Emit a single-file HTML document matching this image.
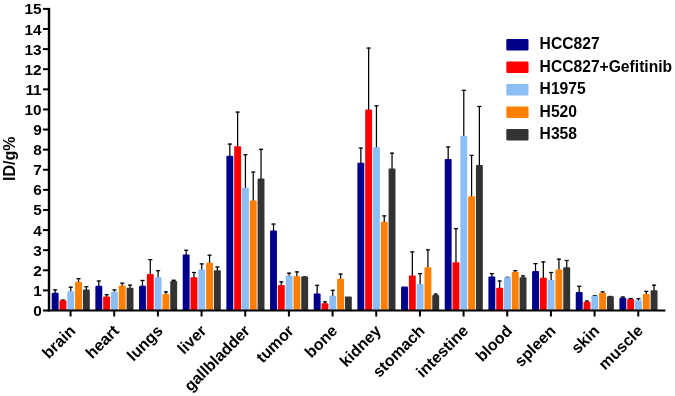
<!DOCTYPE html>
<html><head><meta charset="utf-8"><title>chart</title><style>html,body{margin:0;padding:0;background:#fff}svg{display:block}</style></head><body>
<svg width="675" height="396" viewBox="0 0 675 396">
<rect width="675" height="396" fill="#fff"/>
<path d="M55.15 293.80V289.30" stroke="#000" stroke-width="1.25" fill="none"/>
<path d="M53.10 289.90H57.20" stroke="#000" stroke-width="1.25" fill="none"/>
<rect x="51.70" y="292.80" width="6.9" height="17.70" rx="1" fill="#00008B"/>
<path d="M62.95 301.20V299.50" stroke="#000" stroke-width="1.25" fill="none"/>
<path d="M60.90 300.10H65.00" stroke="#000" stroke-width="1.25" fill="none"/>
<rect x="59.50" y="300.20" width="6.9" height="10.30" rx="1" fill="#FF0000"/>
<path d="M70.75 292.30V286.60" stroke="#000" stroke-width="1.25" fill="none"/>
<path d="M68.70 287.20H72.80" stroke="#000" stroke-width="1.25" fill="none"/>
<rect x="67.30" y="291.30" width="6.9" height="19.20" rx="1" fill="#8DBDF5"/>
<path d="M78.55 282.70V278.10" stroke="#000" stroke-width="1.25" fill="none"/>
<path d="M76.50 278.70H80.60" stroke="#000" stroke-width="1.25" fill="none"/>
<rect x="75.10" y="281.70" width="6.9" height="28.80" rx="1" fill="#FF8000"/>
<path d="M86.35 290.50V286.10" stroke="#000" stroke-width="1.25" fill="none"/>
<path d="M84.30 286.70H88.40" stroke="#000" stroke-width="1.25" fill="none"/>
<rect x="82.90" y="289.50" width="6.9" height="21.00" rx="1" fill="#333333"/>
<path d="M98.82 286.70V280.40" stroke="#000" stroke-width="1.25" fill="none"/>
<path d="M96.77 281.00H100.87" stroke="#000" stroke-width="1.25" fill="none"/>
<rect x="95.37" y="285.70" width="6.9" height="24.80" rx="1" fill="#00008B"/>
<path d="M106.62 297.60V294.10" stroke="#000" stroke-width="1.25" fill="none"/>
<path d="M104.57 294.70H108.67" stroke="#000" stroke-width="1.25" fill="none"/>
<rect x="103.17" y="296.60" width="6.9" height="13.90" rx="1" fill="#FF0000"/>
<path d="M114.42 292.70V289.30" stroke="#000" stroke-width="1.25" fill="none"/>
<path d="M112.37 289.90H116.47" stroke="#000" stroke-width="1.25" fill="none"/>
<rect x="110.97" y="291.70" width="6.9" height="18.80" rx="1" fill="#8DBDF5"/>
<path d="M122.22 286.50V282.60" stroke="#000" stroke-width="1.25" fill="none"/>
<path d="M120.17 283.20H124.27" stroke="#000" stroke-width="1.25" fill="none"/>
<rect x="118.77" y="285.50" width="6.9" height="25.00" rx="1" fill="#FF8000"/>
<path d="M130.02 288.70V284.60" stroke="#000" stroke-width="1.25" fill="none"/>
<path d="M127.97 285.20H132.07" stroke="#000" stroke-width="1.25" fill="none"/>
<rect x="126.57" y="287.70" width="6.9" height="22.80" rx="1" fill="#333333"/>
<path d="M142.49 286.70V279.90" stroke="#000" stroke-width="1.25" fill="none"/>
<path d="M140.44 280.50H144.54" stroke="#000" stroke-width="1.25" fill="none"/>
<rect x="139.04" y="285.70" width="6.9" height="24.80" rx="1" fill="#00008B"/>
<path d="M150.29 274.90V259.00" stroke="#000" stroke-width="1.25" fill="none"/>
<path d="M148.24 259.60H152.34" stroke="#000" stroke-width="1.25" fill="none"/>
<rect x="146.84" y="273.90" width="6.9" height="36.60" rx="1" fill="#FF0000"/>
<path d="M158.09 278.30V270.10" stroke="#000" stroke-width="1.25" fill="none"/>
<path d="M156.04 270.70H160.14" stroke="#000" stroke-width="1.25" fill="none"/>
<rect x="154.64" y="277.30" width="6.9" height="33.20" rx="1" fill="#8DBDF5"/>
<path d="M165.89 294.90V291.30" stroke="#000" stroke-width="1.25" fill="none"/>
<path d="M163.84 291.90H167.94" stroke="#000" stroke-width="1.25" fill="none"/>
<rect x="162.44" y="293.90" width="6.9" height="16.60" rx="1" fill="#FF8000"/>
<path d="M173.69 282.10V279.70" stroke="#000" stroke-width="1.25" fill="none"/>
<path d="M171.64 280.30H175.74" stroke="#000" stroke-width="1.25" fill="none"/>
<rect x="170.24" y="281.10" width="6.9" height="29.40" rx="1" fill="#333333"/>
<path d="M186.16 255.60V249.70" stroke="#000" stroke-width="1.25" fill="none"/>
<path d="M184.11 250.30H188.21" stroke="#000" stroke-width="1.25" fill="none"/>
<rect x="182.71" y="254.60" width="6.9" height="55.90" rx="1" fill="#00008B"/>
<path d="M193.96 278.30V271.90" stroke="#000" stroke-width="1.25" fill="none"/>
<path d="M191.91 272.50H196.01" stroke="#000" stroke-width="1.25" fill="none"/>
<rect x="190.51" y="277.30" width="6.9" height="33.20" rx="1" fill="#FF0000"/>
<path d="M201.76 270.50V263.30" stroke="#000" stroke-width="1.25" fill="none"/>
<path d="M199.71 263.90H203.81" stroke="#000" stroke-width="1.25" fill="none"/>
<rect x="198.31" y="269.50" width="6.9" height="41.00" rx="1" fill="#8DBDF5"/>
<path d="M209.56 263.80V254.60" stroke="#000" stroke-width="1.25" fill="none"/>
<path d="M207.51 255.20H211.61" stroke="#000" stroke-width="1.25" fill="none"/>
<rect x="206.11" y="262.80" width="6.9" height="47.70" rx="1" fill="#FF8000"/>
<path d="M217.36 271.20V266.40" stroke="#000" stroke-width="1.25" fill="none"/>
<path d="M215.31 267.00H219.41" stroke="#000" stroke-width="1.25" fill="none"/>
<rect x="213.91" y="270.20" width="6.9" height="40.30" rx="1" fill="#333333"/>
<path d="M229.83 156.70V143.50" stroke="#000" stroke-width="1.25" fill="none"/>
<path d="M227.78 144.10H231.88" stroke="#000" stroke-width="1.25" fill="none"/>
<rect x="226.38" y="155.70" width="6.9" height="154.80" rx="1" fill="#00008B"/>
<path d="M237.63 147.20V111.50" stroke="#000" stroke-width="1.25" fill="none"/>
<path d="M235.58 112.10H239.68" stroke="#000" stroke-width="1.25" fill="none"/>
<rect x="234.18" y="146.20" width="6.9" height="164.30" rx="1" fill="#FF0000"/>
<path d="M245.43 188.70V154.10" stroke="#000" stroke-width="1.25" fill="none"/>
<path d="M243.38 154.70H247.48" stroke="#000" stroke-width="1.25" fill="none"/>
<rect x="241.98" y="187.70" width="6.9" height="122.80" rx="1" fill="#8DBDF5"/>
<path d="M253.23 201.60V171.50" stroke="#000" stroke-width="1.25" fill="none"/>
<path d="M251.18 172.10H255.28" stroke="#000" stroke-width="1.25" fill="none"/>
<rect x="249.78" y="200.60" width="6.9" height="109.90" rx="1" fill="#FF8000"/>
<path d="M261.03 179.40V148.80" stroke="#000" stroke-width="1.25" fill="none"/>
<path d="M258.98 149.40H263.08" stroke="#000" stroke-width="1.25" fill="none"/>
<rect x="257.58" y="178.40" width="6.9" height="132.10" rx="1" fill="#333333"/>
<path d="M273.50 231.60V223.50" stroke="#000" stroke-width="1.25" fill="none"/>
<path d="M271.45 224.10H275.55" stroke="#000" stroke-width="1.25" fill="none"/>
<rect x="270.05" y="230.60" width="6.9" height="79.90" rx="1" fill="#00008B"/>
<path d="M281.30 286.10V281.30" stroke="#000" stroke-width="1.25" fill="none"/>
<path d="M279.25 281.90H283.35" stroke="#000" stroke-width="1.25" fill="none"/>
<rect x="277.85" y="285.10" width="6.9" height="25.40" rx="1" fill="#FF0000"/>
<path d="M289.10 276.50V272.60" stroke="#000" stroke-width="1.25" fill="none"/>
<path d="M287.05 273.20H291.15" stroke="#000" stroke-width="1.25" fill="none"/>
<rect x="285.65" y="275.50" width="6.9" height="35.00" rx="1" fill="#8DBDF5"/>
<path d="M296.90 277.20V271.30" stroke="#000" stroke-width="1.25" fill="none"/>
<path d="M294.85 271.90H298.95" stroke="#000" stroke-width="1.25" fill="none"/>
<rect x="293.45" y="276.20" width="6.9" height="34.30" rx="1" fill="#FF8000"/>
<path d="M304.70 277.60V276.40" stroke="#000" stroke-width="1.25" fill="none"/>
<path d="M302.65 277.00H306.75" stroke="#000" stroke-width="1.25" fill="none"/>
<rect x="301.25" y="276.60" width="6.9" height="33.90" rx="1" fill="#333333"/>
<path d="M317.17 294.50V284.80" stroke="#000" stroke-width="1.25" fill="none"/>
<path d="M315.12 285.40H319.22" stroke="#000" stroke-width="1.25" fill="none"/>
<rect x="313.72" y="293.50" width="6.9" height="17.00" rx="1" fill="#00008B"/>
<path d="M324.97 304.30V301.30" stroke="#000" stroke-width="1.25" fill="none"/>
<path d="M322.92 301.90H327.02" stroke="#000" stroke-width="1.25" fill="none"/>
<rect x="321.52" y="303.30" width="6.9" height="7.20" rx="1" fill="#FF0000"/>
<path d="M332.77 296.70V289.70" stroke="#000" stroke-width="1.25" fill="none"/>
<path d="M330.72 290.30H334.82" stroke="#000" stroke-width="1.25" fill="none"/>
<rect x="329.32" y="295.70" width="6.9" height="14.80" rx="1" fill="#8DBDF5"/>
<path d="M340.57 279.80V273.50" stroke="#000" stroke-width="1.25" fill="none"/>
<path d="M338.52 274.10H342.62" stroke="#000" stroke-width="1.25" fill="none"/>
<rect x="337.12" y="278.80" width="6.9" height="31.70" rx="1" fill="#FF8000"/>
<rect x="344.92" y="296.60" width="6.9" height="13.90" rx="1" fill="#333333"/>
<path d="M360.84 163.80V147.50" stroke="#000" stroke-width="1.25" fill="none"/>
<path d="M358.79 148.10H362.89" stroke="#000" stroke-width="1.25" fill="none"/>
<rect x="357.39" y="162.80" width="6.9" height="147.70" rx="1" fill="#00008B"/>
<path d="M368.64 110.50V47.50" stroke="#000" stroke-width="1.25" fill="none"/>
<path d="M366.59 48.10H370.69" stroke="#000" stroke-width="1.25" fill="none"/>
<rect x="365.19" y="109.50" width="6.9" height="201.00" rx="1" fill="#FF0000"/>
<path d="M376.44 148.30V105.30" stroke="#000" stroke-width="1.25" fill="none"/>
<path d="M374.39 105.90H378.49" stroke="#000" stroke-width="1.25" fill="none"/>
<rect x="372.99" y="147.30" width="6.9" height="163.20" rx="1" fill="#8DBDF5"/>
<path d="M384.24 222.70V215.30" stroke="#000" stroke-width="1.25" fill="none"/>
<path d="M382.19 215.90H386.29" stroke="#000" stroke-width="1.25" fill="none"/>
<rect x="380.79" y="221.70" width="6.9" height="88.80" rx="1" fill="#FF8000"/>
<path d="M392.04 169.40V152.60" stroke="#000" stroke-width="1.25" fill="none"/>
<path d="M389.99 153.20H394.09" stroke="#000" stroke-width="1.25" fill="none"/>
<rect x="388.59" y="168.40" width="6.9" height="142.10" rx="1" fill="#333333"/>
<rect x="401.06" y="286.60" width="6.9" height="23.90" rx="1" fill="#00008B"/>
<path d="M412.31 276.50V251.30" stroke="#000" stroke-width="1.25" fill="none"/>
<path d="M410.26 251.90H414.36" stroke="#000" stroke-width="1.25" fill="none"/>
<rect x="408.86" y="275.50" width="6.9" height="35.00" rx="1" fill="#FF0000"/>
<path d="M420.11 284.90V273.00" stroke="#000" stroke-width="1.25" fill="none"/>
<path d="M418.06 273.60H422.16" stroke="#000" stroke-width="1.25" fill="none"/>
<rect x="416.66" y="283.90" width="6.9" height="26.60" rx="1" fill="#8DBDF5"/>
<path d="M427.91 268.30V249.30" stroke="#000" stroke-width="1.25" fill="none"/>
<path d="M425.86 249.90H429.96" stroke="#000" stroke-width="1.25" fill="none"/>
<rect x="424.46" y="267.30" width="6.9" height="43.20" rx="1" fill="#FF8000"/>
<path d="M435.71 296.10V293.50" stroke="#000" stroke-width="1.25" fill="none"/>
<path d="M433.66 294.10H437.76" stroke="#000" stroke-width="1.25" fill="none"/>
<rect x="432.26" y="295.10" width="6.9" height="15.40" rx="1" fill="#333333"/>
<path d="M448.18 160.10V146.40" stroke="#000" stroke-width="1.25" fill="none"/>
<path d="M446.13 147.00H450.23" stroke="#000" stroke-width="1.25" fill="none"/>
<rect x="444.73" y="159.10" width="6.9" height="151.40" rx="1" fill="#00008B"/>
<path d="M455.98 263.20V228.10" stroke="#000" stroke-width="1.25" fill="none"/>
<path d="M453.93 228.70H458.03" stroke="#000" stroke-width="1.25" fill="none"/>
<rect x="452.53" y="262.20" width="6.9" height="48.30" rx="1" fill="#FF0000"/>
<path d="M463.78 136.70V89.70" stroke="#000" stroke-width="1.25" fill="none"/>
<path d="M461.73 90.30H465.83" stroke="#000" stroke-width="1.25" fill="none"/>
<rect x="460.33" y="135.70" width="6.9" height="174.80" rx="1" fill="#8DBDF5"/>
<path d="M471.58 197.20V154.80" stroke="#000" stroke-width="1.25" fill="none"/>
<path d="M469.53 155.40H473.63" stroke="#000" stroke-width="1.25" fill="none"/>
<rect x="468.13" y="196.20" width="6.9" height="114.30" rx="1" fill="#FF8000"/>
<path d="M479.38 166.10V105.90" stroke="#000" stroke-width="1.25" fill="none"/>
<path d="M477.33 106.50H481.43" stroke="#000" stroke-width="1.25" fill="none"/>
<rect x="475.93" y="165.10" width="6.9" height="145.40" rx="1" fill="#333333"/>
<path d="M491.85 277.60V273.00" stroke="#000" stroke-width="1.25" fill="none"/>
<path d="M489.80 273.60H493.90" stroke="#000" stroke-width="1.25" fill="none"/>
<rect x="488.40" y="276.60" width="6.9" height="33.90" rx="1" fill="#00008B"/>
<path d="M499.65 288.70V280.40" stroke="#000" stroke-width="1.25" fill="none"/>
<path d="M497.60 281.00H501.70" stroke="#000" stroke-width="1.25" fill="none"/>
<rect x="496.20" y="287.70" width="6.9" height="22.80" rx="1" fill="#FF0000"/>
<path d="M507.45 278.30V276.80" stroke="#000" stroke-width="1.25" fill="none"/>
<path d="M505.40 277.40H509.50" stroke="#000" stroke-width="1.25" fill="none"/>
<rect x="504.00" y="277.30" width="6.9" height="33.20" rx="1" fill="#8DBDF5"/>
<path d="M515.25 272.70V270.10" stroke="#000" stroke-width="1.25" fill="none"/>
<path d="M513.20 270.70H517.30" stroke="#000" stroke-width="1.25" fill="none"/>
<rect x="511.80" y="271.70" width="6.9" height="38.80" rx="1" fill="#FF8000"/>
<path d="M523.05 278.30V275.30" stroke="#000" stroke-width="1.25" fill="none"/>
<path d="M521.00 275.90H525.10" stroke="#000" stroke-width="1.25" fill="none"/>
<rect x="519.60" y="277.30" width="6.9" height="33.20" rx="1" fill="#333333"/>
<path d="M535.52 272.10V263.00" stroke="#000" stroke-width="1.25" fill="none"/>
<path d="M533.47 263.60H537.57" stroke="#000" stroke-width="1.25" fill="none"/>
<rect x="532.07" y="271.10" width="6.9" height="39.40" rx="1" fill="#00008B"/>
<path d="M543.32 278.70V261.30" stroke="#000" stroke-width="1.25" fill="none"/>
<path d="M541.27 261.90H545.37" stroke="#000" stroke-width="1.25" fill="none"/>
<rect x="539.87" y="277.70" width="6.9" height="32.80" rx="1" fill="#FF0000"/>
<path d="M551.12 280.90V271.90" stroke="#000" stroke-width="1.25" fill="none"/>
<path d="M549.07 272.50H553.17" stroke="#000" stroke-width="1.25" fill="none"/>
<rect x="547.67" y="279.90" width="6.9" height="30.60" rx="1" fill="#8DBDF5"/>
<path d="M558.92 270.50V258.60" stroke="#000" stroke-width="1.25" fill="none"/>
<path d="M556.87 259.20H560.97" stroke="#000" stroke-width="1.25" fill="none"/>
<rect x="555.47" y="269.50" width="6.9" height="41.00" rx="1" fill="#FF8000"/>
<path d="M566.72 268.30V259.90" stroke="#000" stroke-width="1.25" fill="none"/>
<path d="M564.67 260.50H568.77" stroke="#000" stroke-width="1.25" fill="none"/>
<rect x="563.27" y="267.30" width="6.9" height="43.20" rx="1" fill="#333333"/>
<path d="M579.19 292.90V285.70" stroke="#000" stroke-width="1.25" fill="none"/>
<path d="M577.14 286.30H581.24" stroke="#000" stroke-width="1.25" fill="none"/>
<rect x="575.74" y="291.90" width="6.9" height="18.60" rx="1" fill="#00008B"/>
<path d="M586.99 302.70V300.40" stroke="#000" stroke-width="1.25" fill="none"/>
<path d="M584.94 301.00H589.04" stroke="#000" stroke-width="1.25" fill="none"/>
<rect x="583.54" y="301.70" width="6.9" height="8.80" rx="1" fill="#FF0000"/>
<path d="M594.79 296.70V295.00" stroke="#000" stroke-width="1.25" fill="none"/>
<path d="M592.74 295.60H596.84" stroke="#000" stroke-width="1.25" fill="none"/>
<rect x="591.34" y="295.70" width="6.9" height="14.80" rx="1" fill="#8DBDF5"/>
<path d="M602.59 293.80V291.30" stroke="#000" stroke-width="1.25" fill="none"/>
<path d="M600.54 291.90H604.64" stroke="#000" stroke-width="1.25" fill="none"/>
<rect x="599.14" y="292.80" width="6.9" height="17.70" rx="1" fill="#FF8000"/>
<path d="M610.39 297.20V295.90" stroke="#000" stroke-width="1.25" fill="none"/>
<path d="M608.34 296.50H612.44" stroke="#000" stroke-width="1.25" fill="none"/>
<rect x="606.94" y="296.20" width="6.9" height="14.30" rx="1" fill="#333333"/>
<path d="M622.86 298.70V296.40" stroke="#000" stroke-width="1.25" fill="none"/>
<path d="M620.81 297.00H624.91" stroke="#000" stroke-width="1.25" fill="none"/>
<rect x="619.41" y="297.70" width="6.9" height="12.80" rx="1" fill="#00008B"/>
<path d="M630.66 300.10V297.90" stroke="#000" stroke-width="1.25" fill="none"/>
<path d="M628.61 298.50H632.71" stroke="#000" stroke-width="1.25" fill="none"/>
<rect x="627.21" y="299.10" width="6.9" height="11.40" rx="1" fill="#FF0000"/>
<path d="M638.46 301.20V298.10" stroke="#000" stroke-width="1.25" fill="none"/>
<path d="M636.41 298.70H640.51" stroke="#000" stroke-width="1.25" fill="none"/>
<rect x="635.01" y="300.20" width="6.9" height="10.30" rx="1" fill="#8DBDF5"/>
<path d="M646.26 294.90V290.80" stroke="#000" stroke-width="1.25" fill="none"/>
<path d="M644.21 291.40H648.31" stroke="#000" stroke-width="1.25" fill="none"/>
<rect x="642.81" y="293.90" width="6.9" height="16.60" rx="1" fill="#FF8000"/>
<path d="M654.06 291.20V284.60" stroke="#000" stroke-width="1.25" fill="none"/>
<path d="M652.01 285.20H656.11" stroke="#000" stroke-width="1.25" fill="none"/>
<rect x="650.61" y="290.20" width="6.9" height="20.30" rx="1" fill="#333333"/>
<rect x="47.8" y="7.90" width="2.4" height="303.60" fill="#000"/>
<rect x="47.8" y="309.50" width="617.60" height="2" fill="#000"/>
<rect x="43" y="309.50" width="5" height="2" fill="#000"/>
<text x="41.7" y="316.00" text-anchor="end" font-size="15.4" font-family="Liberation Sans, Arial, sans-serif" font-weight="bold">0</text>
<rect x="43" y="289.39" width="5" height="2" fill="#000"/>
<text x="41.7" y="295.89" text-anchor="end" font-size="15.4" font-family="Liberation Sans, Arial, sans-serif" font-weight="bold">1</text>
<rect x="43" y="269.29" width="5" height="2" fill="#000"/>
<text x="41.7" y="275.79" text-anchor="end" font-size="15.4" font-family="Liberation Sans, Arial, sans-serif" font-weight="bold">2</text>
<rect x="43" y="249.18" width="5" height="2" fill="#000"/>
<text x="41.7" y="255.68" text-anchor="end" font-size="15.4" font-family="Liberation Sans, Arial, sans-serif" font-weight="bold">3</text>
<rect x="43" y="229.07" width="5" height="2" fill="#000"/>
<text x="41.7" y="235.57" text-anchor="end" font-size="15.4" font-family="Liberation Sans, Arial, sans-serif" font-weight="bold">4</text>
<rect x="43" y="208.97" width="5" height="2" fill="#000"/>
<text x="41.7" y="215.47" text-anchor="end" font-size="15.4" font-family="Liberation Sans, Arial, sans-serif" font-weight="bold">5</text>
<rect x="43" y="188.86" width="5" height="2" fill="#000"/>
<text x="41.7" y="195.36" text-anchor="end" font-size="15.4" font-family="Liberation Sans, Arial, sans-serif" font-weight="bold">6</text>
<rect x="43" y="168.75" width="5" height="2" fill="#000"/>
<text x="41.7" y="175.25" text-anchor="end" font-size="15.4" font-family="Liberation Sans, Arial, sans-serif" font-weight="bold">7</text>
<rect x="43" y="148.65" width="5" height="2" fill="#000"/>
<text x="41.7" y="155.15" text-anchor="end" font-size="15.4" font-family="Liberation Sans, Arial, sans-serif" font-weight="bold">8</text>
<rect x="43" y="128.54" width="5" height="2" fill="#000"/>
<text x="41.7" y="135.04" text-anchor="end" font-size="15.4" font-family="Liberation Sans, Arial, sans-serif" font-weight="bold">9</text>
<rect x="43" y="108.43" width="5" height="2" fill="#000"/>
<text x="41.7" y="114.93" text-anchor="end" font-size="15.4" font-family="Liberation Sans, Arial, sans-serif" font-weight="bold">10</text>
<rect x="43" y="88.33" width="5" height="2" fill="#000"/>
<text x="41.7" y="94.83" text-anchor="end" font-size="15.4" font-family="Liberation Sans, Arial, sans-serif" font-weight="bold">11</text>
<rect x="43" y="68.22" width="5" height="2" fill="#000"/>
<text x="41.7" y="74.72" text-anchor="end" font-size="15.4" font-family="Liberation Sans, Arial, sans-serif" font-weight="bold">12</text>
<rect x="43" y="48.11" width="5" height="2" fill="#000"/>
<text x="41.7" y="54.61" text-anchor="end" font-size="15.4" font-family="Liberation Sans, Arial, sans-serif" font-weight="bold">13</text>
<rect x="43" y="28.01" width="5" height="2" fill="#000"/>
<text x="41.7" y="34.51" text-anchor="end" font-size="15.4" font-family="Liberation Sans, Arial, sans-serif" font-weight="bold">14</text>
<rect x="43" y="7.90" width="5" height="2" fill="#000"/>
<text x="41.7" y="14.40" text-anchor="end" font-size="15.4" font-family="Liberation Sans, Arial, sans-serif" font-weight="bold">15</text>
<rect x="69.55" y="310.50" width="2" height="6" fill="#000"/>
<text transform="translate(76.35 331.80) rotate(-45)" text-anchor="end" font-size="16" font-family="Liberation Sans, Arial, sans-serif" font-weight="bold">brain</text>
<rect x="113.22" y="310.50" width="2" height="6" fill="#000"/>
<text transform="translate(120.02 331.80) rotate(-45)" text-anchor="end" font-size="16" font-family="Liberation Sans, Arial, sans-serif" font-weight="bold">heart</text>
<rect x="156.89" y="310.50" width="2" height="6" fill="#000"/>
<text transform="translate(163.69 331.80) rotate(-45)" text-anchor="end" font-size="16" font-family="Liberation Sans, Arial, sans-serif" font-weight="bold">lungs</text>
<rect x="200.56" y="310.50" width="2" height="6" fill="#000"/>
<text transform="translate(207.36 331.80) rotate(-45)" text-anchor="end" font-size="16" font-family="Liberation Sans, Arial, sans-serif" font-weight="bold">liver</text>
<rect x="244.23" y="310.50" width="2" height="6" fill="#000"/>
<text transform="translate(251.03 331.80) rotate(-45)" text-anchor="end" font-size="16" font-family="Liberation Sans, Arial, sans-serif" font-weight="bold">gallbladder</text>
<rect x="287.90" y="310.50" width="2" height="6" fill="#000"/>
<text transform="translate(294.70 331.80) rotate(-45)" text-anchor="end" font-size="16" font-family="Liberation Sans, Arial, sans-serif" font-weight="bold">tumor</text>
<rect x="331.57" y="310.50" width="2" height="6" fill="#000"/>
<text transform="translate(338.37 331.80) rotate(-45)" text-anchor="end" font-size="16" font-family="Liberation Sans, Arial, sans-serif" font-weight="bold">bone</text>
<rect x="375.24" y="310.50" width="2" height="6" fill="#000"/>
<text transform="translate(382.04 331.80) rotate(-45)" text-anchor="end" font-size="16" font-family="Liberation Sans, Arial, sans-serif" font-weight="bold">kidney</text>
<rect x="418.91" y="310.50" width="2" height="6" fill="#000"/>
<text transform="translate(425.71 331.80) rotate(-45)" text-anchor="end" font-size="16" font-family="Liberation Sans, Arial, sans-serif" font-weight="bold">stomach</text>
<rect x="462.58" y="310.50" width="2" height="6" fill="#000"/>
<text transform="translate(469.38 331.80) rotate(-45)" text-anchor="end" font-size="16" font-family="Liberation Sans, Arial, sans-serif" font-weight="bold">intestine</text>
<rect x="506.25" y="310.50" width="2" height="6" fill="#000"/>
<text transform="translate(513.05 331.80) rotate(-45)" text-anchor="end" font-size="16" font-family="Liberation Sans, Arial, sans-serif" font-weight="bold">blood</text>
<rect x="549.92" y="310.50" width="2" height="6" fill="#000"/>
<text transform="translate(556.72 331.80) rotate(-45)" text-anchor="end" font-size="16" font-family="Liberation Sans, Arial, sans-serif" font-weight="bold">spleen</text>
<rect x="593.59" y="310.50" width="2" height="6" fill="#000"/>
<text transform="translate(600.39 331.80) rotate(-45)" text-anchor="end" font-size="16" font-family="Liberation Sans, Arial, sans-serif" font-weight="bold">skin</text>
<rect x="637.26" y="310.50" width="2" height="6" fill="#000"/>
<text transform="translate(644.06 331.80) rotate(-45)" text-anchor="end" font-size="16" font-family="Liberation Sans, Arial, sans-serif" font-weight="bold">muscle</text>
<text transform="translate(14.6 181) rotate(-90)" font-size="16" font-family="Liberation Sans, Arial, sans-serif" font-weight="bold">ID/g%</text>
<rect x="506.3" y="38.90" width="22.2" height="11.5" rx="1" fill="#00008B"/>
<text x="539.6" y="49.20" font-size="15.65" font-family="Liberation Sans, Arial, sans-serif" font-weight="bold">HCC827</text>
<rect x="506.3" y="61.40" width="22.2" height="11.5" rx="1" fill="#FF0000"/>
<text x="539.6" y="71.70" font-size="15.65" font-family="Liberation Sans, Arial, sans-serif" font-weight="bold">HCC827+Gefitinib</text>
<rect x="506.3" y="83.90" width="22.2" height="11.5" rx="1" fill="#8DBDF5"/>
<text x="539.6" y="94.20" font-size="15.65" font-family="Liberation Sans, Arial, sans-serif" font-weight="bold">H1975</text>
<rect x="506.3" y="106.40" width="22.2" height="11.5" rx="1" fill="#FF8000"/>
<text x="539.6" y="116.70" font-size="15.65" font-family="Liberation Sans, Arial, sans-serif" font-weight="bold">H520</text>
<rect x="506.3" y="128.90" width="22.2" height="11.5" rx="1" fill="#333333"/>
<text x="539.6" y="139.20" font-size="15.65" font-family="Liberation Sans, Arial, sans-serif" font-weight="bold">H358</text>
</svg>
</body></html>
